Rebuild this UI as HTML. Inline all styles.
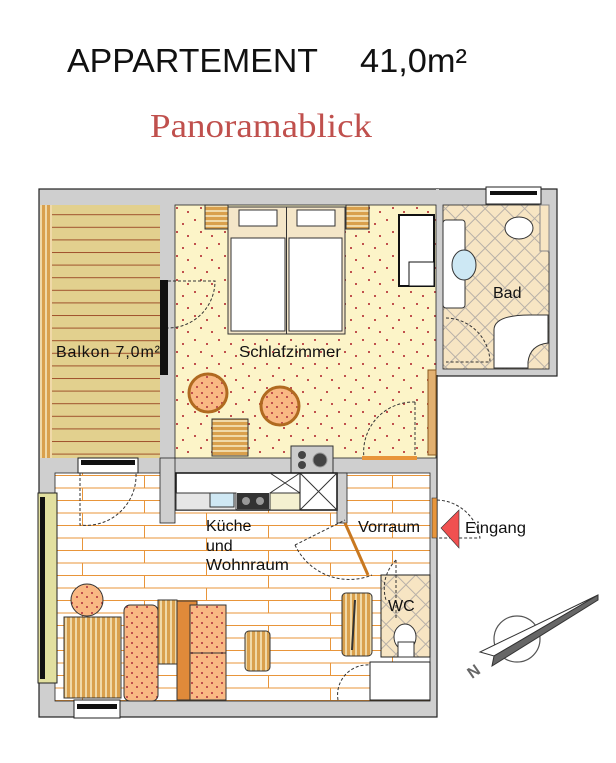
<!DOCTYPE html>
<html><head><meta charset="utf-8"><style>
html,body{margin:0;padding:0;background:#fff;}
svg{display:block;}
text{font-family:"Liberation Sans",Arial,sans-serif;fill:#111;}
</style></head><body>
<svg width="616" height="763" viewBox="0 0 616 763" xmlns="http://www.w3.org/2000/svg">
<defs>
<pattern id="dots" width="24" height="24" patternUnits="userSpaceOnUse">
<rect width="24" height="24" fill="#fcf4c8"/>
<rect x="2" y="3" width="2" height="2" fill="#c0504d"/>
<rect x="14" y="7" width="2" height="2" fill="#c0504d"/>
<rect x="8" y="15" width="2" height="2" fill="#c0504d"/>
<rect x="19" y="19" width="2" height="2" fill="#c0504d"/>
</pattern>
<pattern id="dots2" width="10" height="10" patternUnits="userSpaceOnUse">
<rect width="10" height="10" fill="#f9b883"/>
<rect x="1" y="2" width="2" height="2" fill="#c0504d"/>
<rect x="6" y="6" width="2" height="2" fill="#c0504d"/>
</pattern>
<pattern id="balk" width="12" height="12.6" patternUnits="userSpaceOnUse">
<rect width="12" height="12.6" fill="#e2d08e"/>
<line x1="0" y1="0.5" x2="12" y2="0.5" stroke="#a0522d" stroke-width="1"/>
</pattern>
<pattern id="plank" width="124" height="25" patternUnits="userSpaceOnUse">
<rect width="124" height="25" fill="#fff"/>
<line x1="0" y1="0.5" x2="124" y2="0.5" stroke="#e8953a"/>
<line x1="0" y1="13" x2="124" y2="13" stroke="#e8953a"/>
<line x1="20.5" y1="0" x2="20.5" y2="13" stroke="#e8953a"/>
<line x1="82.5" y1="13" x2="82.5" y2="25" stroke="#e8953a"/>
</pattern>
<pattern id="tile" width="14" height="14" patternUnits="userSpaceOnUse" patternTransform="rotate(45)">
<rect width="14" height="14" fill="#f7e5c3"/>
<path d="M0 0.5H14M0.5 0V14" stroke="#b8b0a8" stroke-width="1"/>
</pattern>
<pattern id="wood" width="5" height="5" patternUnits="userSpaceOnUse">
<rect width="5" height="5" fill="#d9a04d"/><rect width="5" height="2" fill="#f0d9a8"/>
</pattern>
<pattern id="woodv" width="5" height="5" patternUnits="userSpaceOnUse">
<rect width="5" height="5" fill="#d9a04d"/><rect width="2" height="5" fill="#f0d9a8"/>
</pattern>
</defs>

<text x="67" y="72" font-size="33" textLength="251" lengthAdjust="spacingAndGlyphs">APPARTEMENT</text>
<text x="360" y="72" font-size="33" textLength="107" lengthAdjust="spacingAndGlyphs">41,0m²</text>
<text x="150" y="137" font-size="34" textLength="222" lengthAdjust="spacingAndGlyphs" style="font-family:'Liberation Serif',serif;fill:#c0504d">Panoramablick</text>

<!-- walls base -->
<rect x="39" y="189" width="398" height="528" fill="#cfcfcf" stroke="#222" stroke-width="1.2"/>
<rect x="437" y="189" width="120" height="187" fill="#cfcfcf" stroke="#222" stroke-width="1.2"/>
<rect x="436" y="189" width="3" height="186" fill="#cfcfcf"/>

<!-- balkon -->
<rect x="40" y="205" width="120" height="253" fill="url(#balk)"/>
<rect x="40" y="205" width="12" height="253" fill="url(#woodv)"/>
<!-- bedroom -->
<rect x="175" y="205" width="261" height="253" fill="url(#dots)" stroke="#222" stroke-width="0.8"/>
<!-- bath -->
<rect x="443" y="205" width="106" height="164" fill="url(#tile)" stroke="#222" stroke-width="0.8"/>
<!-- living -->
<rect x="55" y="473" width="375" height="228" fill="url(#plank)" stroke="#222" stroke-width="0.8"/>
<rect x="160" y="458" width="15" height="65" fill="#cfcfcf" stroke="#222" stroke-width="0.8"/>
<rect x="337" y="473" width="10" height="50" fill="#cfcfcf" stroke="#222" stroke-width="0.8"/>
<!-- WC -->
<rect x="381" y="575" width="49" height="82" fill="url(#tile)" stroke="#222" stroke-width="1"/>
<rect x="370" y="662" width="60" height="38" fill="#fff" stroke="#222" stroke-width="1"/>

<!-- windows -->
<rect x="486" y="187" width="55" height="17" fill="#fff" stroke="#222"/>
<rect x="490" y="191" width="47" height="4" fill="#111"/>
<rect x="78" y="458" width="60" height="15" fill="#fff" stroke="#222"/>
<rect x="81" y="460" width="54" height="5" fill="#111"/>
<rect x="74" y="700" width="46" height="18" fill="#fff" stroke="#222"/>
<rect x="77" y="704" width="40" height="5" fill="#111"/>
<rect x="38" y="493" width="19" height="190" fill="#e2e0a0" stroke="#222"/>
<rect x="40" y="497" width="5" height="182" fill="#111"/>
<rect x="160" y="280" width="8" height="95" fill="#111"/>
<rect x="428" y="370" width="8" height="85" fill="#e2b070" stroke="#8a5a20"/>

<!-- doors -->
<g fill="none" stroke="#333" stroke-dasharray="3,2">
<path d="M168 281H215A47 47 0 0 1 168 328"/>
<path d="M415 402V458M415 402A50 50 0 0 0 364 458"/>
<path d="M437 500A45 45 0 0 1 480 538H437"/>
<path d="M446 318A45 45 0 0 1 490 362H446"/>
<path d="M295 545L345 520M295 545A60 60 0 0 0 372 575"/>
<path d="M396 560V620M396 560A40 40 0 0 0 386 600"/>
<path d="M80 473V525A50 50 0 0 0 136 473"/>
<path d="M338 700A30 30 0 0 1 370 665"/>
</g>
<line x1="345" y1="523" x2="368" y2="575" stroke="#c87820" stroke-width="3"/>
<rect x="432" y="498" width="5" height="40" fill="#e8953a" stroke="#333" stroke-width="0.6"/>
<rect x="362" y="456" width="55" height="4" fill="#e8953a"/>

<!-- bedroom furniture -->
<rect x="205" y="205" width="23" height="24" fill="url(#wood)" stroke="#333"/>
<rect x="346" y="205" width="23" height="24" fill="url(#wood)" stroke="#333"/>
<rect x="228" y="207" width="117" height="127" fill="#f4e6c8" stroke="#333"/>
<rect x="231" y="238" width="54" height="93" fill="#fff" stroke="#333"/>
<rect x="289" y="238" width="53" height="93" fill="#fff" stroke="#333"/>
<line x1="286.5" y1="207" x2="286.5" y2="334" stroke="#333"/>
<rect x="239" y="210" width="38" height="16" fill="#fff" stroke="#333"/>
<rect x="297" y="210" width="38" height="16" fill="#fff" stroke="#333"/>
<rect x="399" y="215" width="35" height="71" fill="#fff" stroke="#111" stroke-width="2"/>
<rect x="409" y="262" width="25" height="24" fill="#fff" stroke="#111"/>
<circle cx="208" cy="393" r="19" fill="url(#dots2)" stroke="#b06a20" stroke-width="3"/>
<circle cx="280" cy="406" r="19" fill="url(#dots2)" stroke="#b06a20" stroke-width="3"/>
<rect x="212" y="419" width="36" height="37" fill="url(#wood)" stroke="#333"/>
<rect x="291" y="446" width="42" height="27" fill="#ccc" stroke="#333"/>
<circle cx="302" cy="455" r="4" fill="#444"/><circle cx="302" cy="465" r="4" fill="#444"/>
<circle cx="320" cy="460" r="7" fill="#444" stroke="#999"/>

<!-- kitchen -->
<rect x="176" y="473" width="161" height="37" fill="#fff" stroke="#111" stroke-width="1.5"/>
<rect x="176" y="493" width="60" height="17" fill="#e6e6e6" stroke="#333"/>
<rect x="210" y="493" width="24" height="14" fill="#cfe8f4" stroke="#333"/>
<rect x="237" y="493" width="32" height="16" fill="#333"/>
<circle cx="246" cy="501" r="4" fill="#999"/><circle cx="260" cy="501" r="4" fill="#999"/>
<rect x="270" y="493" width="30" height="17" fill="#f4f0d0" stroke="#333"/>
<path d="M300 473L337 510M337 473L300 510M270 473L300 493M300 473L270 493" stroke="#333" fill="none"/>
<line x1="300" y1="473" x2="300" y2="510" stroke="#111"/>

<!-- living furniture -->
<circle cx="87" cy="600" r="16" fill="url(#dots2)" stroke="#333"/>
<rect x="64" y="617" width="57" height="81" fill="url(#woodv)" stroke="#333"/>
<rect x="124" y="605" width="34" height="96" rx="6" fill="url(#dots2)" stroke="#333"/>
<rect x="158" y="600" width="19" height="64" fill="url(#woodv)" stroke="#333"/>
<rect x="177" y="601" width="20" height="99" fill="#e08a3a" stroke="#333"/>
<rect x="190" y="605" width="36" height="48" fill="url(#dots2)" stroke="#333"/>
<rect x="190" y="653" width="36" height="47" fill="url(#dots2)" stroke="#333"/>
<rect x="245" y="631" width="25" height="40" rx="4" fill="url(#woodv)" stroke="#333"/>
<rect x="342" y="593" width="30" height="63" rx="4" fill="url(#woodv)" stroke="#333"/>
<path d="M355 600L352 650" stroke="#333" stroke-width="2"/>
<ellipse cx="405" cy="637" rx="11" ry="13" fill="#fff" stroke="#333"/>
<rect x="398" y="642" width="16" height="15" fill="#fff" stroke="#333"/>

<!-- bath furniture -->
<rect x="443" y="220" width="22" height="88" rx="3" fill="#fff" stroke="#333"/>
<ellipse cx="464" cy="265" rx="12" ry="15" fill="#cde8f4" stroke="#333"/>
<ellipse cx="519" cy="228" rx="14" ry="11" fill="#fff" stroke="#333"/>
<rect x="540" y="205" width="9" height="46" fill="#f7e5c3" stroke="#888"/>
<path d="M494 368V330Q494 315 530 315H548V343Q530 345 528 362V368Z" fill="#fff" stroke="#333"/>

<!-- labels -->
<text x="56" y="357" font-size="16" textLength="104" lengthAdjust="spacing">Balkon  7,0m²</text>
<text x="239" y="357" font-size="16" textLength="102" lengthAdjust="spacingAndGlyphs">Schlafzimmer</text>
<text x="493" y="298" font-size="16">Bad</text>
<text x="206" y="531" font-size="16">Küche</text>
<text x="206" y="551" font-size="16">und</text>
<text x="206" y="570" font-size="16" textLength="83" lengthAdjust="spacingAndGlyphs">Wohnraum</text>
<text x="358" y="532" font-size="16" textLength="62" lengthAdjust="spacingAndGlyphs">Vorraum</text>
<text x="388" y="611" font-size="16">WC</text>
<polygon points="441,528 459,510 459,548" fill="#f05050" stroke="#333" stroke-width="0.6"/>
<text x="465" y="533" font-size="16" textLength="61" lengthAdjust="spacingAndGlyphs">Eingang</text>

<!-- compass -->
<circle cx="517" cy="639" r="23" fill="none" stroke="#555" stroke-width="1.2"/>
<polygon points="598,595 480,652 494,656" fill="#fff" stroke="#333"/>
<polygon points="598,595 494,656 492,666 598,600" fill="#666" stroke="#333"/>
<text x="466" y="676" font-size="16" font-weight="bold" transform="rotate(-35 474 668)" style="fill:#666">N</text>
</svg>
</body></html>
